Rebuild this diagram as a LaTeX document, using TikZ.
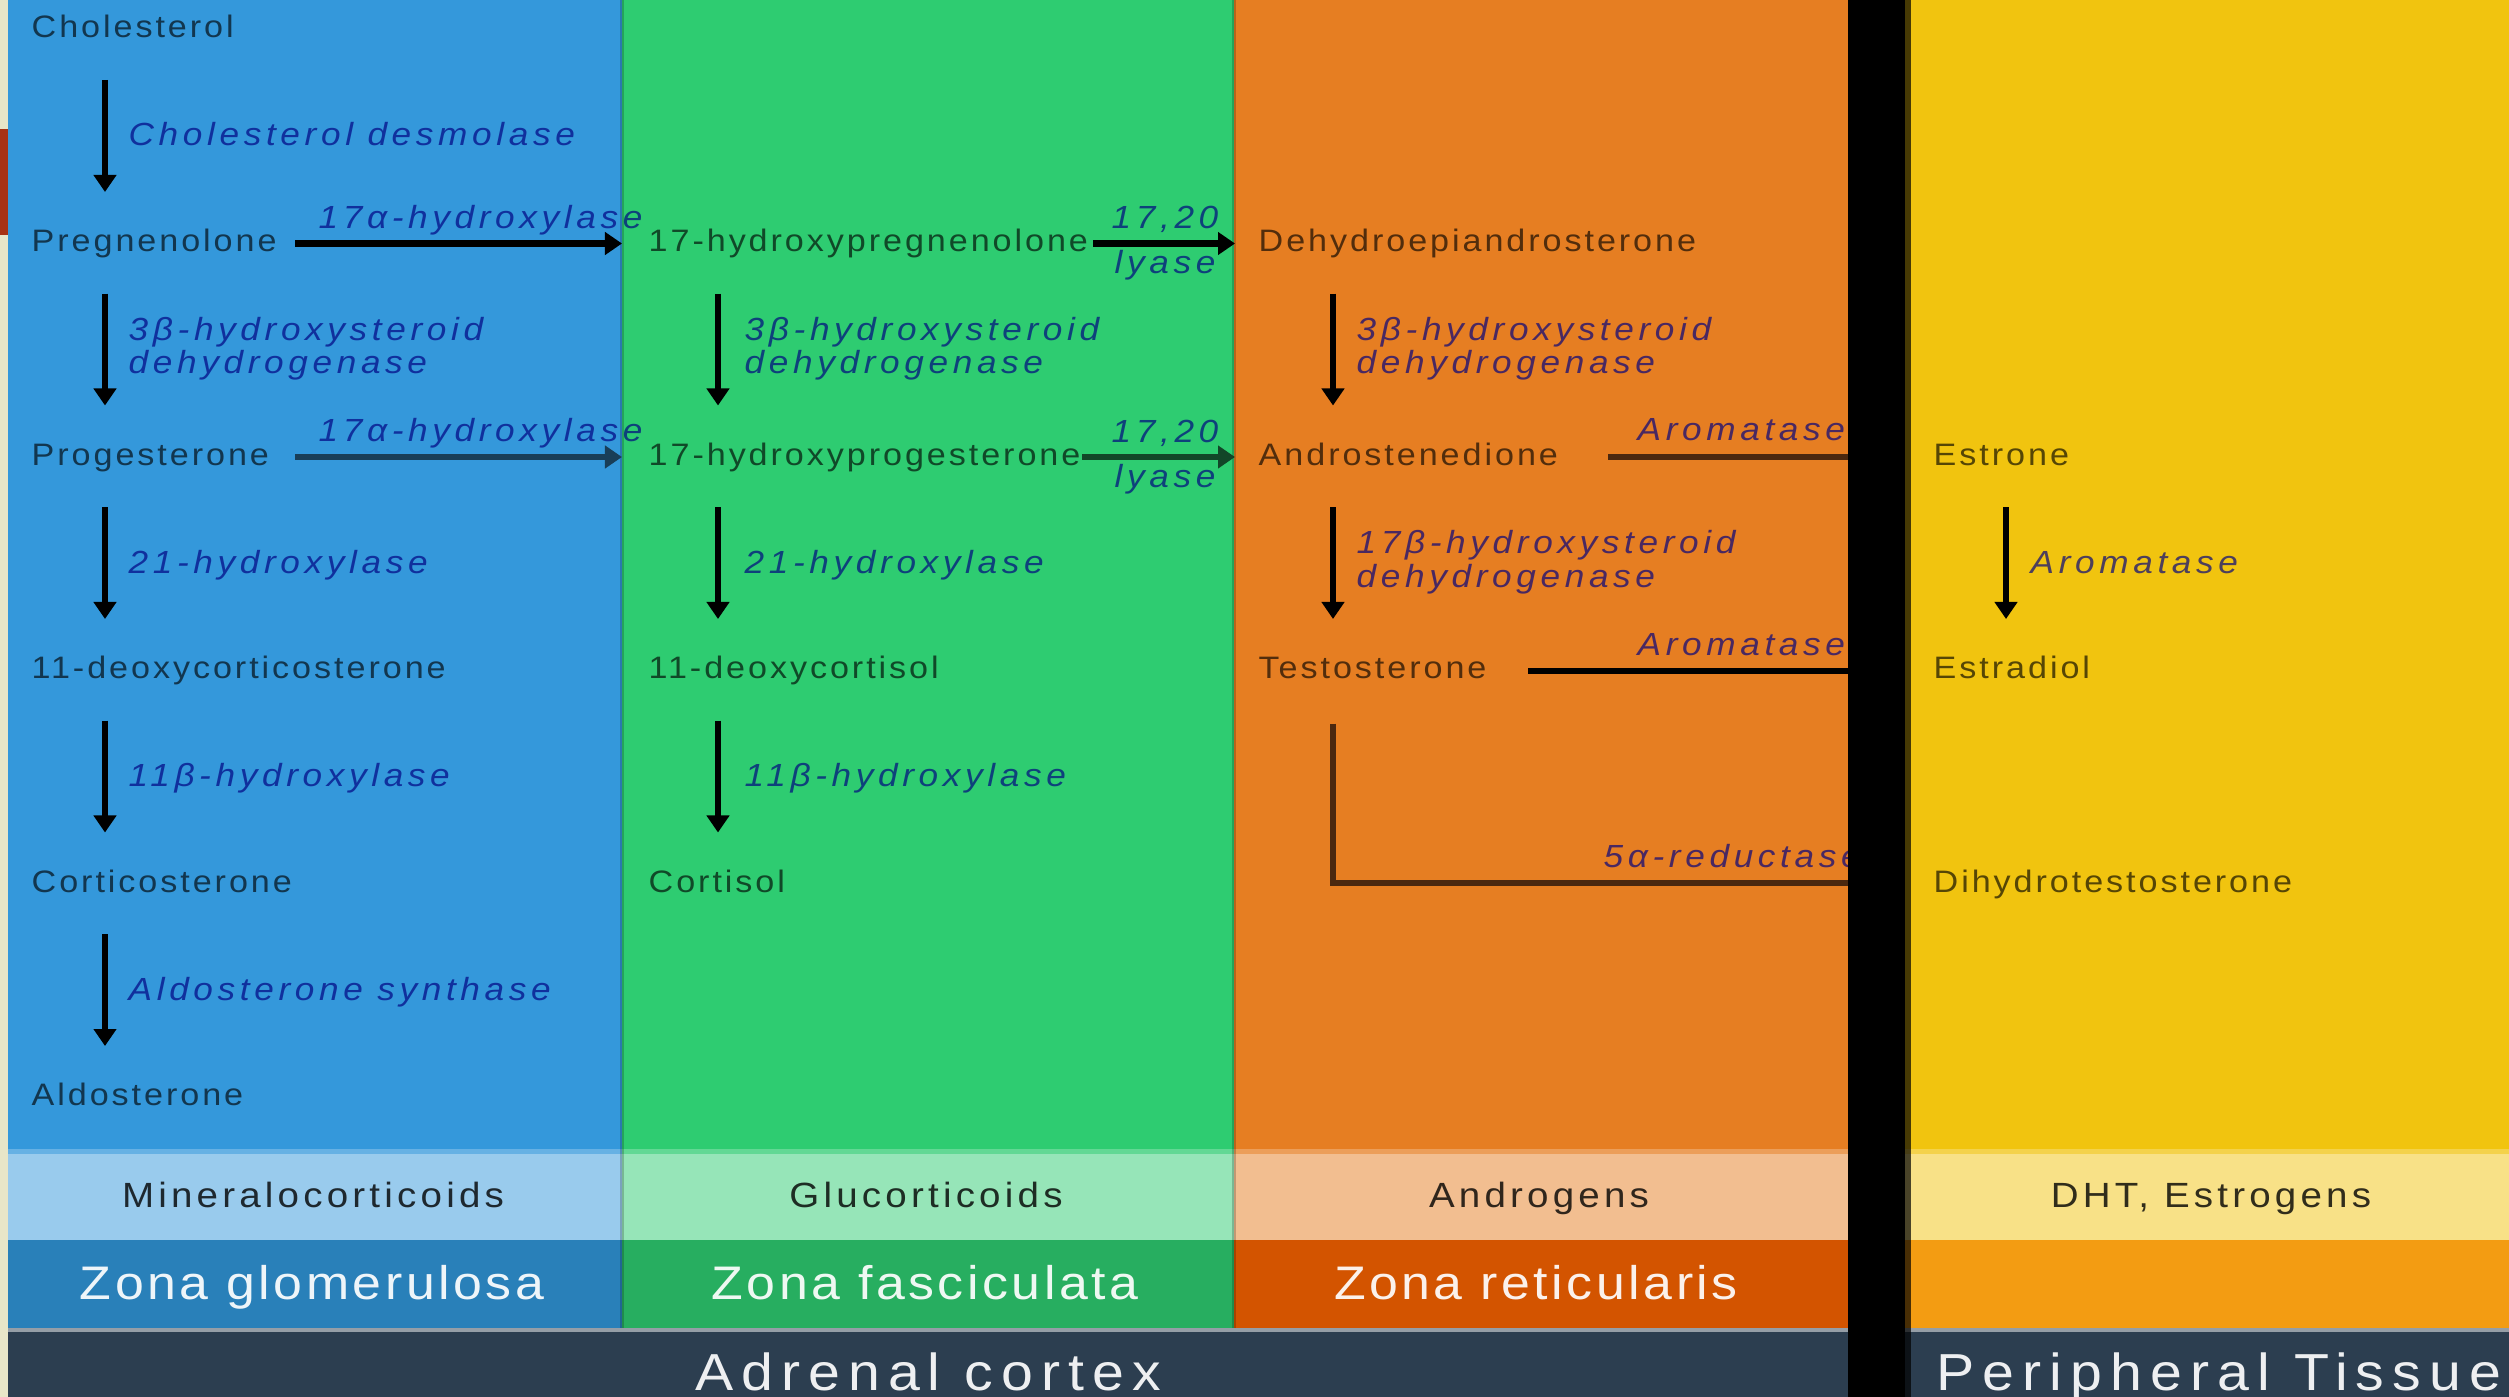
\documentclass[tikz,border=0pt]{standalone}
\usepackage{fontspec}
\usepackage{xcolor}
\usepackage{tikz}
\usetikzlibrary{positioning, arrows.meta, calc}

\newfontfamily\cmpfont{Liberation Sans}[FakeStretch=1.1,LetterSpace=9.5]
\newfontfamily\enzfont{Liberation Sans}[FakeStretch=1.1,LetterSpace=14.5]
\newfontfamily\bandfont{Liberation Sans}[FakeStretch=1.1,LetterSpace=12]
\newfontfamily\zonafont{Liberation Sans}[FakeStretch=1.1,LetterSpace=7.5]
\newfontfamily\regionfont{Liberation Sans}[FakeStretch=1.1,LetterSpace=15.5]

\definecolor{glomblue}{HTML}{3498DB}
\definecolor{fascgreen}{HTML}{2ECC71}
\definecolor{reticorange}{HTML}{E67E22}
\definecolor{periyellow}{HTML}{F1C40F}
\definecolor{glomdark}{HTML}{2980B9}
\definecolor{fascdark}{HTML}{27AE60}
\definecolor{reticdark}{HTML}{D35400}
\definecolor{peridark}{HTML}{F39C12}
\definecolor{cortexnavy}{HTML}{2C3E50}
\definecolor{leftstrip}{HTML}{E8E6C8}
\definecolor{leftred}{HTML}{A83214}
\definecolor{enzblue}{HTML}{000080}
\definecolor{lineteal}{HTML}{193E58}
\definecolor{linegreen}{HTML}{124628}
\definecolor{linebrown}{HTML}{4B280F}

\begin{document}
\begin{tikzpicture}[x=0.01cm, y=-0.01cm,
    cmp/.style={anchor=base west, inner sep=0pt, text=black, text opacity=0.64,
        font=\cmpfont\fontsize{8.82}{10}\selectfont},
    enz/.style={anchor=base west, inner sep=0pt, align=left, text=enzblue, text opacity=0.68,
        font=\enzfont\itshape\fontsize{9.1}{9.39}\selectfont},
    conv/.style={line width=0.06cm, -{Triangle[width=0.22cm, length=0.17cm]}},
    hormone/.style={anchor=base, inner sep=0pt, text=black, text opacity=0.8,
        font=\bandfont\fontsize{9.96}{11}\selectfont},
    zona/.style={anchor=base, inner sep=0pt, text=white, text opacity=0.92,
        font=\zonafont\fontsize{13.4}{15}\selectfont},
    region/.style={anchor=base, inner sep=0pt, text=white, text opacity=0.92,
        font=\regionfont\fontsize{14.8}{16}\selectfont}]

    \useasboundingbox (0,0) rectangle (2509,1397);

    % Columns
    \fill[leftstrip] (0,0) rectangle (8,1397);
    \fill[leftred] (0,129) rectangle (8,235);
    \fill[glomblue] (8,0) rectangle (622,1240);
    \fill[fascgreen] (622,0) rectangle (1234,1240);
    \fill[reticorange] (1234,0) rectangle (1848,1240);
    \fill[periyellow] (1848,0) rectangle (2509,1240);
    \fill[white, opacity=0.25] (8,1149) rectangle (2509,1154);
    \fill[white, opacity=0.5] (8,1154) rectangle (2509,1240);

    % Zona band
    \fill[glomdark] (8,1240) rectangle (622,1328);
    \fill[fascdark] (622,1240) rectangle (1234,1328);
    \fill[reticdark] (1234,1240) rectangle (1848,1328);
    \fill[peridark] (1848,1240) rectangle (2509,1328);
    \fill[cortexnavy, opacity=0.5] (8,1328) rectangle (2509,1332);
    \fill[cortexnavy] (8,1332) rectangle (2509,1397);
    \draw[black, opacity=0.2, line width=0.04cm] (622,0) -- (622,1328);
    \draw[black, opacity=0.2, line width=0.04cm] (1234,0) -- (1234,1328);

    % Zona glomerulosa
    \node[cmp] (chol) at (31,38) {Cholesterol};
    \node[cmp] (preg) at (31,251.5) {Pregnenolone};
    \node[cmp] (prog) at (31,465) {Progesterone};
    \node[cmp] (doc) at (31,678.5) {11-deoxycorticosterone};
    \node[cmp] (cortico) at (31,892) {Corticosterone};
    \node[cmp] (aldo) at (31,1105.5) {Aldosterone};

    % Zona fasciculata
    \node[cmp] (ohpreg) at (648,251.5) {17-hydroxypregnenolone};
    \node[cmp] (ohprog) at (648,465) {17-hydroxyprogesterone};
    \node[cmp] (deoxycortisol) at (648,678.5) {11-deoxycortisol};
    \node[cmp] (cortisol) at (648,892) {Cortisol};

    % Zona reticularis
    \node[cmp] (dhea) at (1258,251.5) {Dehydroepiandrosterone};
    \node[cmp] (andro) at (1258,465) {Androstenedione};
    \node[cmp] (testo) at (1258,678.5) {Testosterone};

    % Peripheral tissue
    \node[cmp] (estrone) at (1933,465) {Estrone};
    \node[cmp] (estradiol) at (1933,678.5) {Estradiol};
    \node[cmp] (dht) at (1933,892) {Dihydrotestosterone};

    % Downward steps
    \draw[conv] ($(chol.base west)+(74,42)$) -- ($(preg.base west)+(74,-59.5)$);
    \node[enz] (desmolase) at ($(chol.base west)+(97,108)$) {Cholesterol desmolase};
    \draw[conv] ($(preg.base west)+(74,42)$) -- ($(prog.base west)+(74,-59.5)$);
    \node[enz] (hsdA) at ($(preg.base west)+(97,122)$) {3β-hydroxysteroid\\dehydrogenase};
    \draw[conv] ($(prog.base west)+(74,42)$) -- ($(doc.base west)+(74,-59.5)$);
    \node[enz] (cypA) at ($(prog.base west)+(97,108)$) {21-hydroxylase};
    \draw[conv] ($(doc.base west)+(74,42)$) -- ($(cortico.base west)+(74,-59.5)$);
    \node[enz] (cypB) at ($(doc.base west)+(97,108)$) {11β-hydroxylase};
    \draw[conv] ($(cortico.base west)+(74,42)$) -- ($(aldo.base west)+(74,-59.5)$);
    \node[enz] (aldosyn) at ($(cortico.base west)+(97,108)$) {Aldosterone synthase};

    \draw[conv] ($(ohpreg.base west)+(70,42)$) -- ($(ohprog.base west)+(70,-59.5)$);
    \node[enz] (hsdB) at ($(ohpreg.base west)+(96,122)$) {3β-hydroxysteroid\\dehydrogenase};
    \draw[conv] ($(ohprog.base west)+(70,42)$) -- ($(deoxycortisol.base west)+(70,-59.5)$);
    \node[enz] (cypC) at ($(ohprog.base west)+(96,108)$) {21-hydroxylase};
    \draw[conv] ($(deoxycortisol.base west)+(70,42)$) -- ($(cortisol.base west)+(70,-59.5)$);
    \node[enz] (cypD) at ($(deoxycortisol.base west)+(96,108)$) {11β-hydroxylase};

    \draw[conv] ($(dhea.base west)+(75,42)$) -- ($(andro.base west)+(75,-59.5)$);
    \node[enz] (hsdC) at ($(dhea.base west)+(98,122)$) {3β-hydroxysteroid\\dehydrogenase};
    \draw[conv] ($(andro.base west)+(75,42)$) -- ($(testo.base west)+(75,-59.5)$);
    \node[enz] (hsdD) at ($(andro.base west)+(98,122)$) {17β-hydroxysteroid\\dehydrogenase};

    \draw[conv] ($(estrone.base west)+(73,42)$) -- ($(estradiol.base west)+(73,-59.5)$);
    \node[enz] (aromC) at ($(estrone.base west)+(97,108)$) {Aromatase};

    % Sideways steps
    \draw[conv] ($(preg.base west)+(264,-8)$) -- ($(ohpreg.base west)+(-26,-8)$);
    \node[enz] (hydA) at ($(preg.base west)+(287,-23)$) {17α-hydroxylase};
    \draw[conv, lineteal] ($(prog.base west)+(264,-8)$) -- ($(ohprog.base west)+(-26,-8)$);
    \node[enz] (hydB) at ($(prog.base west)+(287,-24)$) {17α-hydroxylase};
    \draw[conv] ($(ohpreg.base west)+(445,-8)$) -- ($(dhea.base west)+(-23,-8)$);
    \node[enz, anchor=base] (lyaseA) at ($(ohpreg.base west)+(517,-23)$) {17,20};
    \node[enz, anchor=base] (lyaseB) at ($(ohpreg.base west)+(517,22)$) {lyase};
    \draw[conv, linegreen] ($(ohprog.base west)+(434,-8)$) -- ($(andro.base west)+(-23,-8)$);
    \node[enz, anchor=base] (lyaseC) at ($(ohprog.base west)+(517,-23)$) {17,20};
    \node[enz, anchor=base] (lyaseD) at ($(ohprog.base west)+(517,22)$) {lyase};
    \draw[conv, linebrown] ($(andro.base west)+(350,-8)$) -- ($(estrone.base west)+(-40,-8)$);
    \node[enz] (aromA) at ($(andro.base west)+(379,-25)$) {Aromatase};
    \draw[conv] ($(testo.base west)+(270,-8)$) -- ($(estradiol.base west)+(-40,-8)$);
    \node[enz] (aromB) at ($(testo.base west)+(379,-23)$) {Aromatase};
    \draw[conv, linebrown] ($(testo.base west)+(75,45)$) |- ($(dht.base west)+(-40,-9)$);
    \node[enz] (reductase) at ($(dht.base west)+(-330,-25)$) {5α-reductase};

    % Band labels
    \node[hormone] (mineral) at (313,1207) {Mineralocorticoids};
    \node[hormone] (gluco) at (926,1207) {Glucorticoids};
    \node[hormone] (andros) at (1539,1207) {Androgens};
    \node[hormone] (estros) at (2211,1207) {DHT, Estrogens};
    \node[zona] (glom) at (312,1299) {Zona glomerulosa};
    \node[zona] (fasc) at (925,1299) {Zona fasciculata};
    \node[zona] (retic) at (1536,1299) {Zona reticularis};
    \node[region] (cortex) at (928,1390) {Adrenal cortex};
    \node[region, anchor=base west] (periph) at (1936,1390) {Peripheral Tissue};

    % Divider
    \fill[black] (1848,0) rectangle (1905,1397);
    \fill[black, opacity=0.7] (1905,0) rectangle (1911,1397);
\end{tikzpicture}
\end{document}
